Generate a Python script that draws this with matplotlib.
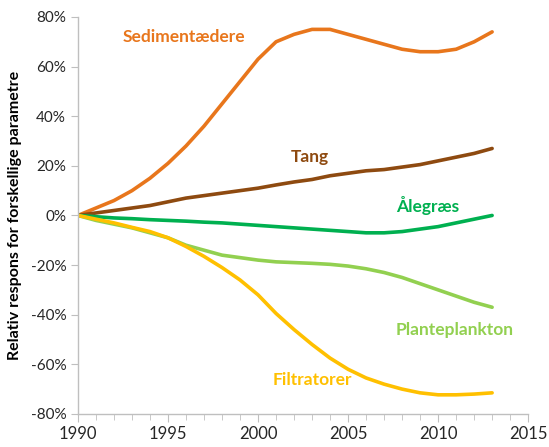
import matplotlib
matplotlib.use("Agg")
import matplotlib.pyplot as plt
from matplotlib.ticker import FuncFormatter, MultipleLocator

years = list(range(1990, 2014))
sediment = [0, 3, 6, 10, 15, 21, 28, 36, 45, 54, 63, 70, 73, 75, 75, 73,
            71, 69, 67, 66, 66, 67, 70, 74]
tang = [0, 1, 2, 3, 4, 5.5, 7, 8, 9, 10, 11, 12.3, 13.5, 14.5, 16, 17,
        18, 18.5, 19.5, 20.5, 22, 23.5, 25, 27]
aalegraes = [0, -0.5, -1, -1.3, -1.7, -2, -2.3, -2.7, -3, -3.5, -4, -4.5,
             -5, -5.5, -6, -6.5, -7, -7, -6.5, -5.5, -4.5, -3, -1.5, 0]
plankton = [0, -2, -3.5, -5, -7, -9, -12, -14, -16, -17, -18, -18.7, -19,
            -19.3, -19.7, -20.4, -21.5, -23, -25, -27.5, -30, -32.5, -35, -37]
filtratorer = [0, -1.5, -3, -4.8, -6.5, -9, -12.5, -16.5, -21, -26, -32,
               -39.5, -46, -52, -57.5, -62, -65.5, -68, -70, -71.5, -72.3,
               -72.3, -72, -71.5]

series = [
    ("Sedimentædere", sediment, "#E8761C", 1995.9, 72),
    ("Tang", tang, "#8E4A10", 2002.9, 23.5),
    ("Ålegræs", aalegraes, "#00B050", 2009.4, 4),
    ("Planteplankton", plankton, "#92D050", 2010.9, -46),
    ("Filtratorer", filtratorer, "#FFC000", 2003.0, -66.5),
]

plt.rcParams['font.family'] = ['Lato', 'DejaVu Sans']
fig = plt.figure(figsize=(5.49, 4.47), dpi=100)
ax = fig.add_axes([0.142, 0.074, 0.820, 0.888])

for name, vals, col, tx, ty in series:
    ax.plot(years, vals, color=col, lw=2.6, solid_capstyle='round',
            solid_joinstyle='round')
    ax.text(tx, ty, name, color=col, fontsize=12.5, fontweight='bold',
            ha='center', va='center')

ax.set_xlim(1990, 2015)
ax.set_ylim(-80, 80)
ax.xaxis.set_major_locator(MultipleLocator(5))
ax.xaxis.set_minor_locator(MultipleLocator(1))
ax.yaxis.set_major_locator(MultipleLocator(20))
ax.yaxis.set_major_formatter(FuncFormatter(lambda v, p: f"{v:.0f}%"))

for s in ['top', 'right']:
    ax.spines[s].set_visible(False)
for s in ['left', 'bottom']:
    ax.spines[s].set_color('#BFBFBF')
    ax.spines[s].set_linewidth(1)
ax.tick_params(axis='y', direction='out', length=5, color='#BFBFBF',
               labelsize=11, labelcolor='#262626')
ax.tick_params(axis='x', which='major', direction='out', length=6,
               color='#BFBFBF', labelsize=12, labelcolor='#262626', pad=3)
ax.tick_params(axis='x', which='minor', direction='out', length=4,
               color='#BFBFBF')

ax.set_ylabel("Relativ respons for forskellige parametre", fontsize=11.5,
              fontweight='bold', labelpad=6)

fig.savefig("out.png", dpi=100)
